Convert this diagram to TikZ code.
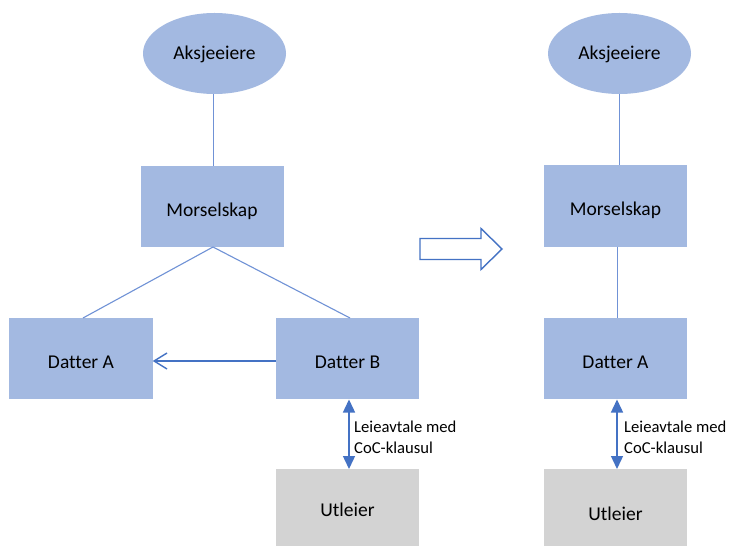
\documentclass[tikz,border=0pt]{standalone}
\usepackage{fontspec}
\setmainfont{Carlito}[Ligatures=NoCommon]
\usetikzlibrary{shapes.geometric,arrows.meta}
\definecolor{boxblue}{RGB}{163,185,225}
\definecolor{boxgray}{RGB}{211,211,211}
\definecolor{linkblue}{RGB}{112,146,214}
\definecolor{arrowblue}{RGB}{68,114,196}
\begin{document}
\begin{tikzpicture}[x=1bp,y=-1bp,
  ownerell/.style={ellipse,fill=boxblue,minimum width=143bp,minimum height=81bp,inner sep=0pt,text height=13bp,text depth=0pt,font=\fontsize{19.6}{23}\selectfont},
  entbox/.style={rectangle,fill=boxblue,minimum width=143bp,minimum height=81bp,inner sep=0pt,text height=20bp,text depth=0pt,font=\fontsize{19.6}{23}\selectfont},
  lessorbox/.style={rectangle,fill=boxgray,minimum width=143bp,minimum height=90bp,inner sep=0pt,anchor=north,text depth=0pt,font=\fontsize{19.6}{23}\selectfont},
  link/.style={draw=linkblue,line width=1.1bp},
  leasearrow/.style={draw=arrowblue,line width=1.4bp,{Triangle[length=13bp,width=12bp]}-{Triangle[length=13bp,width=12bp]}},
  transfer/.style={draw=arrowblue,line width=1.4bp,-{Straight Barb[length=13bp,width=16bp]}},
  leaselabel/.style={anchor=west,align=left,inner sep=0pt,font=\fontsize{16.7}{21}\selectfont}]
\clip (0,0) rectangle (732,546);
\fill[white] (0,0) rectangle (732,546);
% left structure
\node[ownerell] (e1) at (214.5,53.5) {Aksjeeiere};
\node[entbox] (m1) at (212,206.5) {Morselskap};
\node[entbox] (da1) at (81,358.5) {Datter A};
\node[entbox] (db1) at (347.5,358.5) {Datter B};
\node[lessorbox,text height=5bp] (u1) at (347.5,469) {Utleier};
\draw[link] (e1.south -| 213.5,0) -- (213.5,0 |- m1.north);
\coordinate (mb1) at (213,247);
\draw[link] (mb1) -- (83,318);
\draw[link] (mb1) -- (350,318);
\draw[transfer] (db1.west |- 0,361) -- (da1.east |- 0,361);
\draw[leasearrow] (349,399.5) -- (349,469);
\node[leaselabel] (l1) at (354,437.5) {Leieavtale med\\CoC-klausul};
% transfer arrow
\draw[draw=arrowblue,line width=1.4bp,fill=white,line join=miter]
  (420,238.5) -- (481,238.5) -- (481,228.5) -- (502,249) -- (481,269.5) -- (481,259.5) -- (420,259.5) -- cycle;
% right structure
\node[ownerell] (e2) at (619.5,53.5) {Aksjeeiere};
\node[entbox] (m2) at (615.5,206) {Morselskap};
\node[entbox] (da2) at (615.5,358.5) {Datter A};
\node[lessorbox,text height=11.6bp] (u2) at (615.5,469) {Utleier};
\draw[link] (e2.south -| 619.5,0) -- (619.5,0 |- m2.north);
\draw[link] (m2.south -| 617.5,0) -- (617.5,0 |- da2.north);
\draw[leasearrow] (617,399.5) -- (617,469);
\node[leaselabel] (l2) at (624,437.5) {Leieavtale med\\CoC-klausul};
\end{tikzpicture}
\end{document}
